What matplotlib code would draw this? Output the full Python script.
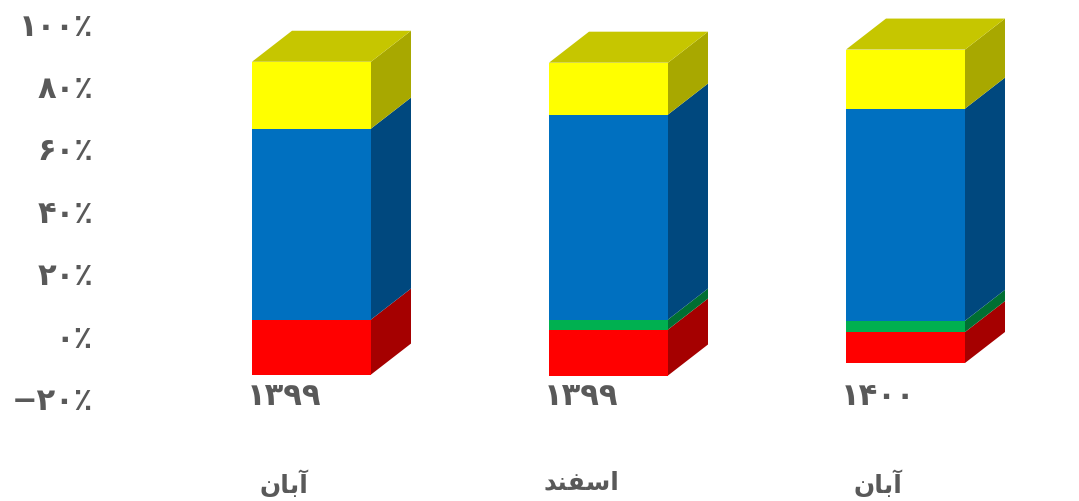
import matplotlib
matplotlib.use("Agg")
import matplotlib.pyplot as plt
import numpy as np

W, H = 1079, 502

years = ["۱۳۹۹", "۱۳۹۹", "۱۴۰۰"]
# Persian month names in visual order, contextual forms (matplotlib does not shape Arabic script)
months = ["\ufee5\ufe8e\ufe91\ufe81", "\ufeaa\ufee8\ufed4\ufeb3\ufe8d", "\ufee5\ufe8e\ufe91\ufe81"]
tick_values = [-20, 0, 20, 40, 60, 80, 100]
tick_labels = ["−۲۰٪", "۰٪", "۲۰٪", "۴۰٪", "۶۰٪", "۸۰٪", "۱۰۰٪"]

base = [-12.5, -12.8, -8.8]
red = [17.6, 14.7, 9.9]
green = [0.0, 3.2, 3.6]
blue = [61.1, 65.6, 67.9]
yellow = [21.4, 16.6, 18.9]

series = [
    (red, "#FF0000", "#A50000"),
    (green, "#00B050", "#006F32"),
    (blue, "#0070C0", "#00487E"),
    (yellow, "#FFFF00", "#A8A800"),
]
top_colour = "#C6C600"
text_colour = "#595959"

# layout, in pixels of the picture
px_per_cat = 297.0
px_per_pct = 3.125
cat0_px = 311.5
zero_px = 336.5
left_px, right_px = 100.0, 1075.0
top_px, bottom_px = 3.0, 399.0
bar_w = 119.0 / px_per_cat
depth_x = 40.0 / px_per_cat
depth_y = 31.0 / px_per_pct
label_shift = 27.5 / px_per_cat

fig = plt.figure(figsize=(W / 100, H / 100), dpi=100)
ax = fig.add_axes([left_px / W, 1 - bottom_px / H, (right_px - left_px) / W, (bottom_px - top_px) / H])
ax.set_xlim((left_px - cat0_px) / px_per_cat, (right_px - cat0_px) / px_per_cat)
ax.set_ylim((zero_px - bottom_px) / px_per_pct, (zero_px - top_px) / px_per_pct)
for s in ax.spines.values():
    s.set_visible(False)

x = np.arange(len(years))
bottom = np.array(base, dtype=float)
for vals, front, side in series:
    vals = np.array(vals)
    ax.bar(x, vals, bar_w, bottom=bottom, color=front, linewidth=0, clip_on=False, zorder=3)
    for xi, b, v in zip(x, bottom, vals):
        if v <= 0:
            continue
        xr = xi + bar_w / 2
        ax.fill([xr, xr + depth_x, xr + depth_x, xr],
                [b, b + depth_y, b + v + depth_y, b + v],
                color=side, linewidth=0, clip_on=False, zorder=2)
    bottom = bottom + vals
for xi, t in zip(x, bottom):
    xl, xr = xi - bar_w / 2, xi + bar_w / 2
    ax.fill([xl, xr, xr + depth_x, xl + depth_x], [t, t, t + depth_y, t + depth_y],
            color=top_colour, linewidth=0, clip_on=False, zorder=2)

font = ["DejaVu Sans"]
ax.set_yticks(tick_values)
ax.set_yticklabels(tick_labels, family=font, fontweight="bold", fontsize=22, color=text_colour)
ax.tick_params(axis="y", length=0, pad=5)
ax.set_xticks(x - label_shift)
ax.set_xticklabels(years, family=font, fontweight="bold", fontsize=22, color=text_colour)
ax.tick_params(axis="x", length=0, pad=-12.5)
sec = ax.secondary_xaxis("bottom")
sec.set_xticks(x - label_shift)
sec.set_xticklabels(months, family=font, fontweight="bold", fontsize=18, color=text_colour)
sec.tick_params(axis="x", length=0, pad=51.5)
sec.spines["bottom"].set_visible(False)

fig.savefig("out.png", dpi=100)
